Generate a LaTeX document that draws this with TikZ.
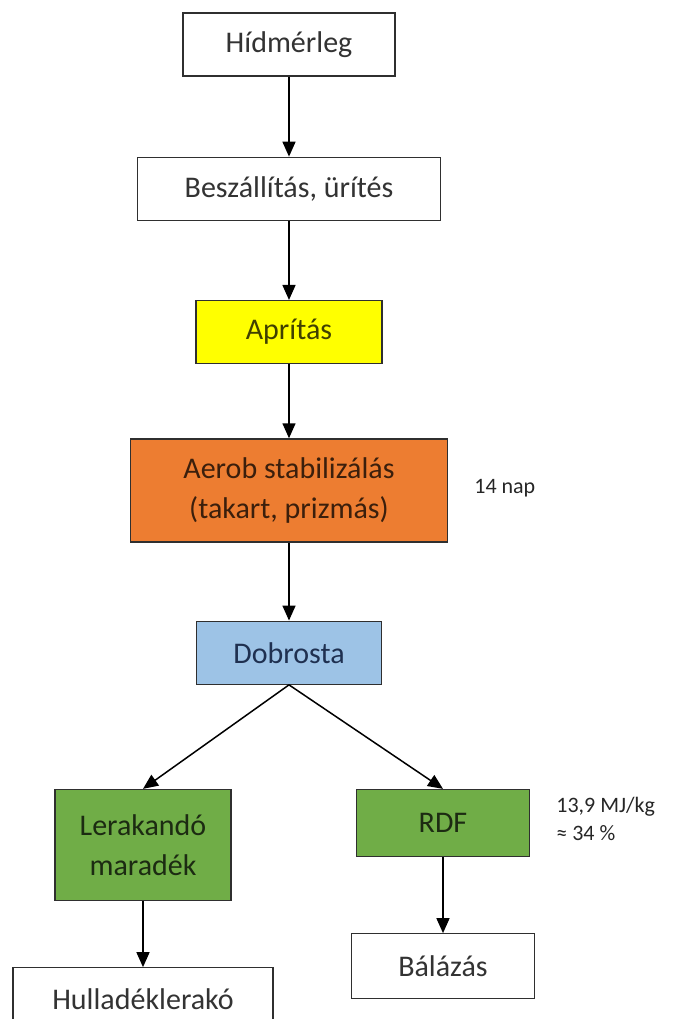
\documentclass[tikz,border=0pt]{standalone}
\usepackage{fontspec}
\setmainfont{Carlito}
\usetikzlibrary{positioning,arrows.meta}
\definecolor{boxline}{HTML}{2F2F2F}
\definecolor{aprfill}{HTML}{FFFF00}
\definecolor{aerfill}{HTML}{ED7D31}
\definecolor{dobfill}{HTML}{9DC3E6}
\definecolor{grnfill}{HTML}{70AD47}
\definecolor{dobtext}{HTML}{1F3050}
\tikzset{
box/.style={
draw=boxline,
line width=1.3pt,
minimum height=63pt,
inner sep=0pt,
align=center,
fill=white,
text=black!80,
font=\fontsize{30}{40}\selectfont
},
yellowbox/.style={box,fill=aprfill,text=black!75!aprfill},
orangebox/.style={box,fill=aerfill,text=black!75!aerfill},
bluebox/.style={box,fill=dobfill,text=dobtext},
greenbox/.style={box,fill=grnfill,text=black!75!grnfill},
note/.style={
align=left,
inner sep=0pt,
text=black!85,
font=\fontsize{22}{28}\selectfont
},
arrow/.style={
-{Triangle[length=15pt,width=13pt]},
line width=1.5pt,
draw=black
}
}
\begin{document}
\begin{tikzpicture}[x=1pt,y=-1pt]
\clip (0,0) rectangle (672,1019);
\node[box,minimum width=212pt](hid) at (289,44.5){Hídmérleg};
\node[box,minimum width=303pt,below=80pt of hid](besz){Beszállítás, ürítés};
\node[yellowbox,minimum width=186pt,below=79pt of besz](apr){Aprítás};
\node[orangebox,minimum width=317pt,minimum height=103pt,below=74pt of apr](aer){Aerob stabilizálás\\(takart, prizmás)};
\node[bluebox,minimum width=185pt,below=78pt of aer](dob){Dobrosta};
\node[greenbox,minimum width=176pt,minimum height=111pt,below=104pt of dob,xshift=-146pt](ler){Lerakandó\\maradék};
\node[greenbox,minimum width=173pt,minimum height=67pt,below=104pt of dob,xshift=154pt](rdf){RDF};
\node[box,minimum width=260pt,below=66pt of ler](hul){Hulladéklerakó};
\node[box,minimum width=183pt,minimum height=65pt,below=76pt of rdf](bal){Bálázás};

% megjegyzesek
\node[note,right=26pt of aer,yshift=2pt](nap){14 nap};
\node[note,right=26pt of rdf,yshift=4pt](fut){13,9 MJ/kg\\≈ 34 \%};

\foreach \x/\y in {hid/besz,besz/apr,apr/aer,aer/dob,ler/hul,rdf/bal}
\draw[arrow](\x)--(\y);
\draw[arrow](dob.south)--(ler.north);
\draw[arrow](dob.south)--(rdf.north);
\end{tikzpicture}
\end{document}
